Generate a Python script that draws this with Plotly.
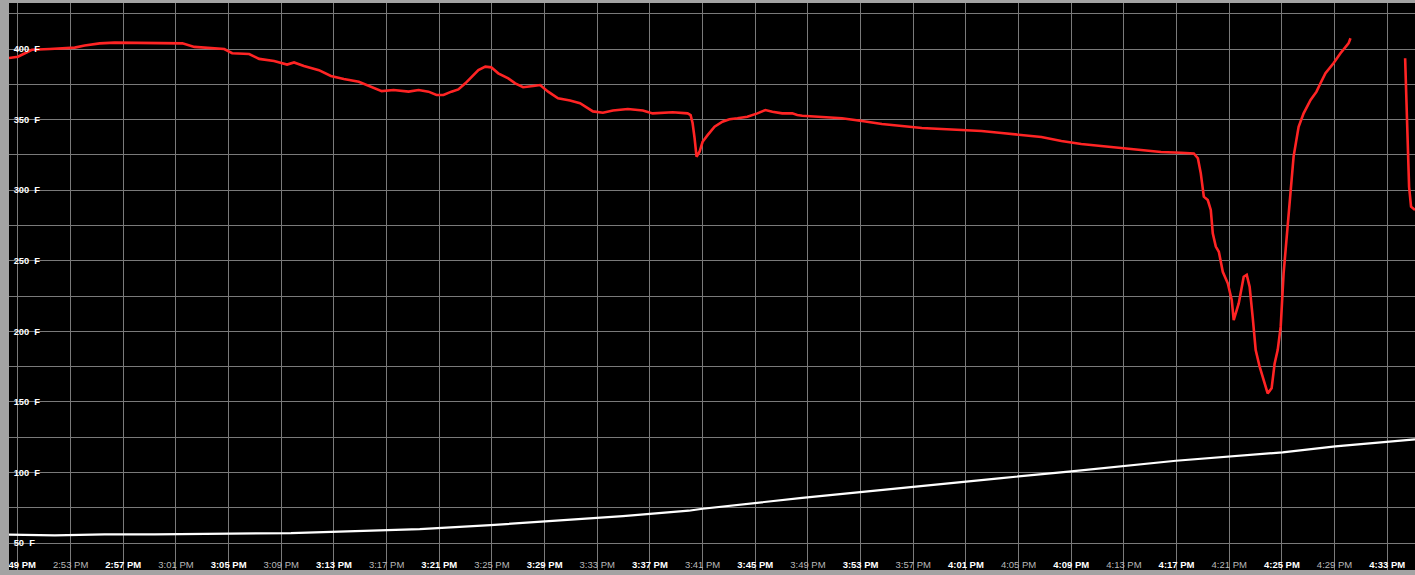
import pandas as pd
import plotly.graph_objects as go

BASE = "2015-01-01 14:49:00"

# Oven / probe temperature (red) - minutes after 2:49 PM, degrees F
red_min = [-0.68, 0, 0.53, 1.06, 2.42, 3.56, 4.31, 5.07, 6.21, 7.34, 9.61, 11.50, 12.49, 13.40, 14.53,
           15.67, 16.27, 17.56, 18.32, 19.45, 20.44, 20.97, 21.72, 22.86, 23.77, 24.75, 25.89, 26.87,
           27.63, 28.53, 29.67, 30.43, 31.18, 31.79, 32.32, 32.92, 33.45, 33.98, 34.44, 34.97, 35.50,
           35.95, 36.48, 37.24, 37.77, 38.37, 39.13, 39.66, 40.27, 41.02, 41.93, 42.69, 43.67, 44.43,
           45.19, 46.32, 47.46, 48.21, 49.73, 50.86, 51.09, 51.24, 51.39, 51.54, 51.77, 52.00, 52.38,
           52.91, 53.51, 54.04, 54.65, 55.40, 56.16, 56.77, 57.30, 58.05, 58.81, 59.19, 59.57, 61.08,
           62.59, 64.11, 65.62, 67.14, 68.65, 70.16, 71.68, 73.19, 74.71, 76.22, 77.73, 79.25, 80.76,
           82.27, 83.79, 85.30, 86.82, 88.33, 89.31, 89.62, 89.84, 90.07, 90.37, 90.60, 90.75, 90.98,
           91.21, 91.51, 91.89, 92.19, 92.34, 92.72, 93.10, 93.33, 93.55, 93.78, 94.01, 94.31, 94.54,
           94.92, 95.22, 95.45, 95.68, 95.91, 96.13, 96.36, 96.66, 96.89, 97.27, 97.65, 98.18, 98.63,
           98.93, 99.31, 99.92, 100.45, 101.06, 101.21, 103.0, 105.36, 105.51, 105.66, 105.81, 106.11]
red_temp = [393.6, 394.5, 397, 399.5, 400, 400.7, 401, 402.5, 404, 404.5, 404.5, 404.3, 404, 401.5, 400.5,
            400, 397, 396.5, 393, 391.5, 389, 390.5, 388, 385, 380.9, 378.7, 376.8, 373.3,
            370.2, 371, 369.8, 371, 369.8, 367.4, 367.4, 369.8, 371.4, 375.7, 380.4, 385.1, 387.5,
            387, 382.8, 379.2, 375.7, 372.9, 373.8, 374.5, 369.8, 365.1, 363.5, 361.6, 355.8, 354.9,
            356.5, 357.5, 356.5, 354.4, 355.2, 354.4, 353.2, 347.6, 337, 323.7, 327.2, 334.3, 339,
            345, 348.5, 350.2, 350.9, 352, 354.4, 356.8, 355.6, 354.4, 354.4, 353.2, 352.7, 351.8,
            351, 349, 346.9, 345.4, 344, 343.3, 342.6, 341.9, 340.5, 339, 337.7, 334.8, 332.7,
            331.3, 329.9, 328.5, 327, 326.5, 326, 322.6, 311.9, 295.4, 293, 286, 269.4, 260,
            256.4, 242.2, 234, 222.2, 208, 219.8, 238.7, 240, 231.6, 210.3, 186.7, 174.9, 167.8,
            156, 159.6, 177.3, 186.7, 203.3, 241, 264.7, 300, 324, 344.9, 354.4, 363.9, 369.8,
            375.7, 382.8, 389.9, 397, 404, 407.6, None, 393.4, 349.7, 302.4, 288.3, 286]

# Ambient temperature (white)
white_min = [-0.68, 2.80, 6.58, 10.37, 20.74, 25.51, 30.52, 35.9, 40.95, 45.95, 50.95, 52.0, 59.57,
             67.9, 74.7, 80.0, 87.95, 96.05, 100.06, 106.11]
white_temp = [56.0, 55.5, 56.2, 56.2, 57.0, 58.4, 59.9, 62.7, 65.8, 69.1, 72.9, 74.3, 82,
              89.9, 96, 100.8, 108.3, 114.3, 118.5, 123.5]

tick_min = [0, 4, 8, 12, 16, 20, 24, 28, 32, 36, 40, 44, 48, 52, 56, 60, 64, 68, 72, 76, 80, 84,
            88, 92, 96, 100, 104]
tick_labels = ["2:49 PM", "2:53 PM", "2:57 PM", "3:01 PM", "3:05 PM", "3:09 PM", "3:13 PM", "3:17 PM",
               "3:21 PM", "3:25 PM", "3:29 PM", "3:33 PM", "3:37 PM", "3:41 PM", "3:45 PM", "3:49 PM",
               "3:53 PM", "3:57 PM", "4:01 PM", "4:05 PM", "4:09 PM", "4:13 PM", "4:17 PM", "4:21 PM",
               "4:25 PM", "4:29 PM", "4:33 PM"]
y_ticks = [50, 100, 150, 200, 250, 300, 350, 400]
y_labels = ["50\u00a0\u00a0F\u00a0\u00a0", "100\u00a0\u00a0F", "150\u00a0\u00a0F", "200\u00a0\u00a0F",
            "250\u00a0\u00a0F", "300\u00a0\u00a0F", "350\u00a0\u00a0F", "400\u00a0\u00a0F"]

base = pd.Timestamp(BASE)


def to_time(mins):
    return [None if m is None else base + pd.to_timedelta(m, unit="min") for m in mins]


red_x = to_time(red_min)
white_x = to_time(white_min)
tick_x = to_time(tick_min)

tick_text = []
for i, t in enumerate(tick_labels):
    if i % 2 == 0:
        tick_text.append("<b>" + t + "</b>")
    else:
        tick_text.append("<span style='color:#b8b8b8'>" + t + "</span>")

fig = go.Figure()
fig.add_trace(go.Scatter(x=white_x, y=white_temp, mode="lines",
                         line=dict(color="#ffffff", width=2.2), connectgaps=False))
fig.add_trace(go.Scatter(x=red_x, y=red_temp, mode="lines",
                         line=dict(color="#ff2424", width=2.6), connectgaps=False))

grid_col = "#7a7a7a"
fig.update_layout(
    width=1415, height=575,
    margin=dict(l=4, r=0, t=3, b=5, pad=0),
    paper_bgcolor="#a3a3a3",
    plot_bgcolor="#000000",
    showlegend=False,
    font=dict(family="Liberation Sans, Arial", color="#ffffff", size=10),
    xaxis=dict(
        range=[base + pd.to_timedelta(-0.68, unit="min"), base + pd.to_timedelta(106.11, unit="min")],
        tickmode="array", tickvals=tick_x, ticktext=tick_text,
        ticklabelposition="outside", ticklabelstandoff=-13, ticklabeloverflow="allow",
        showgrid=True, gridcolor=grid_col, gridwidth=1,
        zeroline=False, showline=False, ticks="",
        tickfont=dict(size=9.5, color="#ffffff"),
    ),
    yaxis=dict(
        range=[30.9, 432.6],
        tickmode="array", tickvals=y_ticks, ticktext=y_labels,
        ticklabelposition="outside", ticklabelstandoff=-32, ticklabeloverflow="allow",
        showgrid=True, gridcolor=grid_col, gridwidth=1,
        minor=dict(dtick=25, tick0=0, showgrid=True, gridcolor=grid_col, gridwidth=1, ticks=""),
        zeroline=False, showline=False, ticks="",
        tickfont=dict(size=9.3, color="#ffffff", family="Liberation Sans, Arial", weight="bold"),
    ),
)

# gray frame on the left covering overflowing labels
fig.add_shape(type="rect", xref="paper", yref="paper", x0=-0.01, x1=0, y0=-0.02, y1=1.02,
              fillcolor="#a3a3a3", line=dict(width=0), layer="above")

fig.write_html("out.html", config={"displayModeBar": False},
               post_script="document.body.style.margin='0';document.body.style.overflow='hidden';")
